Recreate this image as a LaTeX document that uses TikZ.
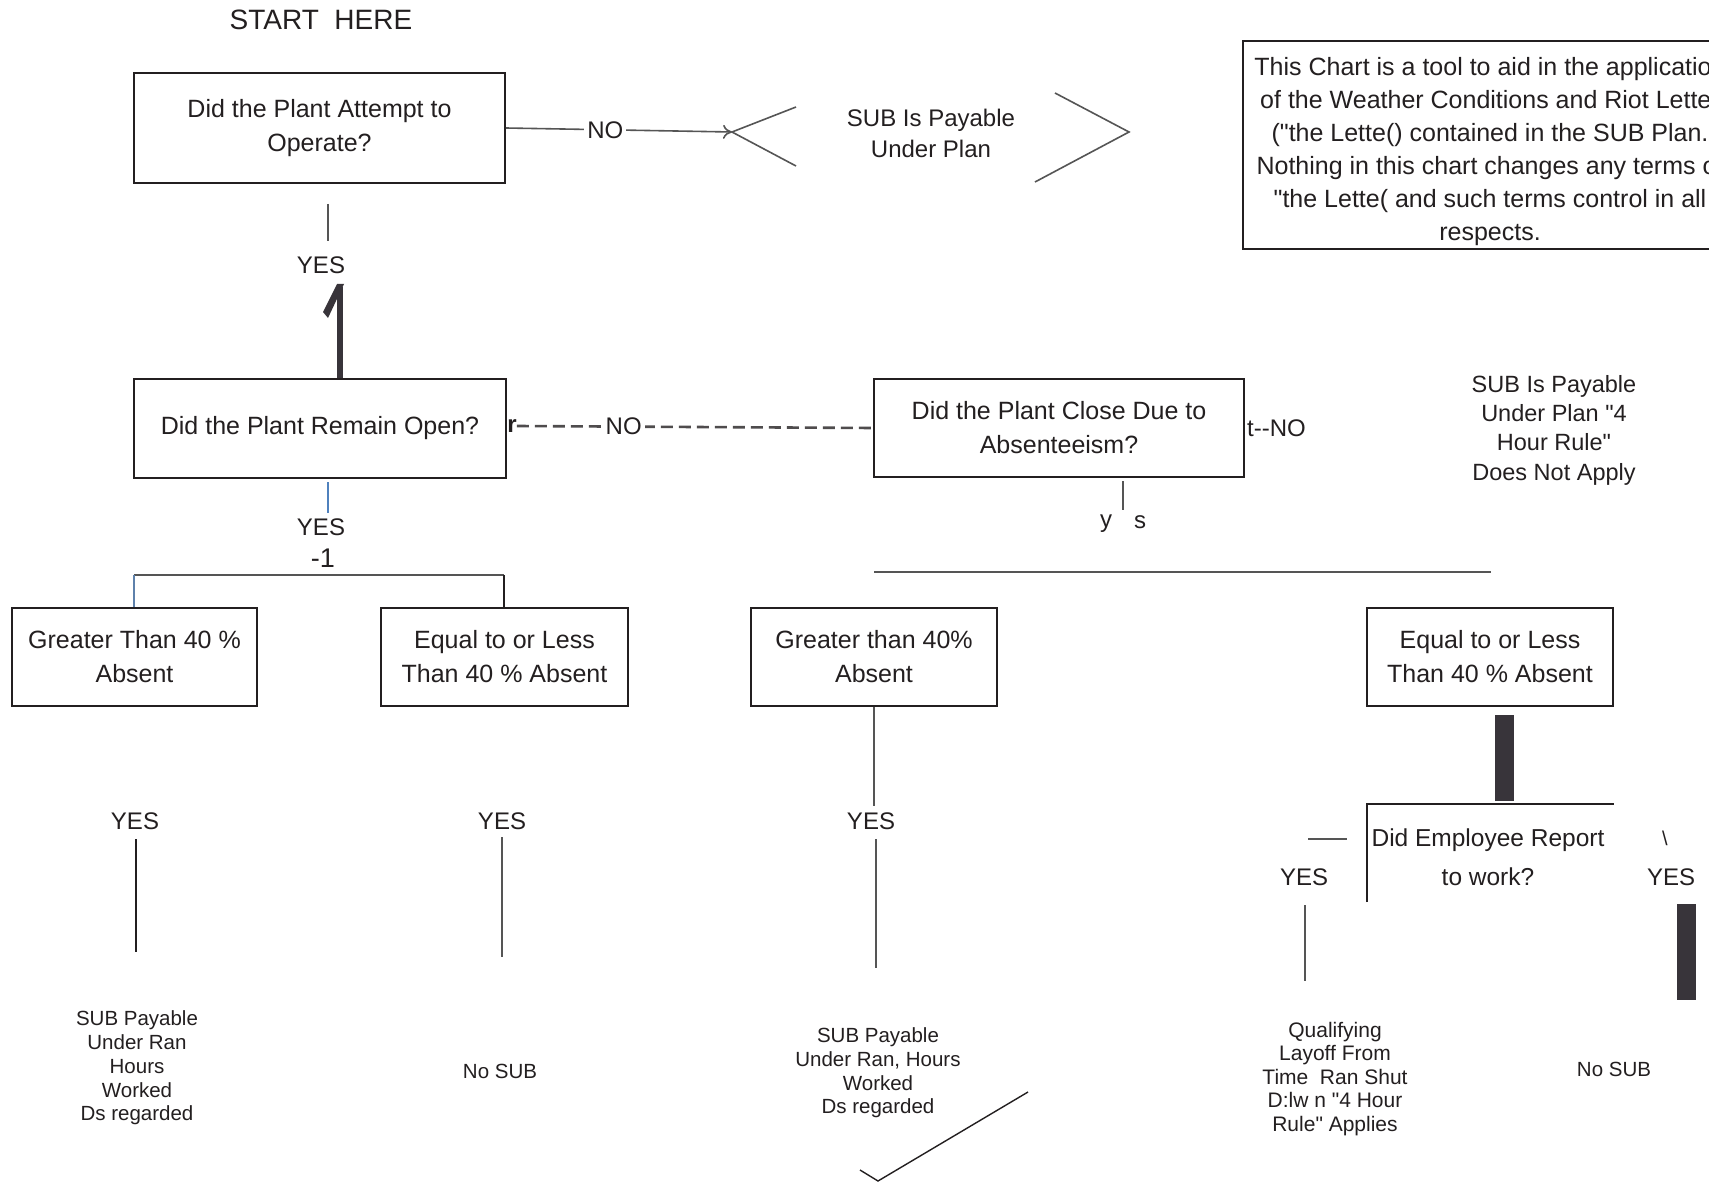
\documentclass[tikz,border=0pt]{standalone}
\usepackage{fontspec}
\setmainfont{Liberation Sans}[Ligatures=TeXOff]
\usetikzlibrary{arrows.meta,calc}
\definecolor{ink}{HTML}{231F20}
\definecolor{barc}{HTML}{38343A}
\definecolor{lblue}{HTML}{4F81BD}
\definecolor{lgray}{HTML}{555555}
\begin{document}
\begin{tikzpicture}[x=1pt,y=-1pt,
  every node/.style={text=ink, inner sep=0pt},
  box/.style={draw=ink, line width=1.8pt, align=center, font=\fontsize{25}{34}\selectfont},
  lbl/.style={font=\fontsize{24}{30}\selectfont},
  smalltxt/.style={align=center, font=\fontsize{20.5}{23.7}\selectfont},
  conn/.style={draw=lgray, line width=1.6pt},
  thinconn/.style={draw=lgray, line width=1.3pt},
  barfill/.style={fill=barc, draw=none}]
\useasboundingbox (0,0) rectangle (1709,1185);
\fill[white] (0,0) rectangle (1709,1185);
\clip (0,0) rectangle (1709,1185);

% top
\node[font=\fontsize{28}{30}\selectfont] (start) at (321,20) {START\ \ HERE};
\node[box, minimum width=371pt, minimum height=110pt] (q1) at (319.5,128) {Did the Plant Attempt to\\Operate?};

% payable chevron
\coordinate (apex) at (732,132);
\node[align=center, font=\fontsize{24}{31}\selectfont] (pay1) at (931,133) {SUB Is Payable\\Under Plan};
\draw[conn] (796,107) -- (apex) -- (796,166);
\draw[conn] (1055,93) -- (1129,132) -- (1035,182);
\draw[conn, -{To[length=9pt,width=14pt]}] (q1.east) -- node[pos=0.44, fill=white, lbl, inner xsep=3pt] (no1) {NO} (apex);

% note
\node[draw=ink, line width=1.8pt, minimum width=494pt, minimum height=208pt] (note) at (1490,145) {};
\node[align=center, font=\fontsize{25}{33}\selectfont] (notetext) at (1490,152)
  {This Chart is a tool to aid in the application\\of the Weather Conditions and Riot Letter\\("the Lette() contained in the SUB Plan.\\Nothing in this chart changes any terms of\\"the Lette( and such terms control in all\\respects.};

% first yes
\coordinate (c1a) at (328,204);
\coordinate (c1b) at (328,241);
\draw[conn] (c1a) -- (c1b);
\node[lbl] (yes1) at (321,265) {YES};
\node[box, minimum width=372pt, minimum height=99pt] (q2) at (320,428.5) {Did the Plant Remain Open?};
\coordinate (onetop) at (340,287);
\draw[draw=barc, line width=6.5pt] (onetop) -- (onetop |- q2.north);
\fill[barc] (337,284) -- (344,284) -- (328,318) -- (323,312) -- cycle;

% second yes
\coordinate (c2a) at (328,482);
\coordinate (c2b) at (328,513);
\draw[lblue, line width=2pt] (c2a) -- (c2b);
\node[lbl] (yes2) at (321,527) {YES};
\node[font=\fontsize{27}{30}\selectfont] (m1) at (323,558) {-1};

% split left
\node[box, minimum width=245pt, minimum height=98pt] (a) at (134.5,657) {Greater Than 40 \%\\Absent};
\node[box, minimum width=247pt, minimum height=98pt] (b) at (504.5,657) {Equal to or Less\\Than 40 \% Absent};
\coordinate (sl) at (134,575);
\coordinate (sr) at (504,575);
\draw[thinconn] (sl) -- (sr);
\draw[lblue!70!gray, line width=1.3pt] (sl) -- (sl |- a.north);
\draw[draw=ink, line width=1.6pt] (sr) -- (sr |- b.north);

% dashed NO
\node[font=\bfseries\fontsize{24}{30}\selectfont] (rr) at (512,426) {r};
\node[box, minimum width=370pt, minimum height=98pt] (q3) at (1059,428) {Did the Plant Close Due to\\Absenteeism?};
\draw[draw=ink!80, line width=2.6pt, dash pattern=on 12pt off 6pt] (rr.east) -- node[pos=0.30, fill=white, lbl, inner xsep=3pt] (no2) {NO} (q3.west);
\node[lbl, anchor=west] (tno) at ([xshift=2pt]q3.east) {t--NO};

% right text
\node[align=center, font=\fontsize{23.5}{29.3}\selectfont] (pay2) at (1554,430) {SUB Is Payable\\Under Plan "4\\Hour Rule"\\Does Not Apply};

% ys
\coordinate (c3a) at (1123,481);
\coordinate (c3b) at (1123,510);
\draw[conn] (c3a) -- (c3b);
\node[lbl] (ysy) at (1106,524) {y};
\node[lbl] (yss) at (1140,522) {s};
\coordinate (hl) at (874,572);
\coordinate (hr) at (1491,572);
\draw[thinconn] (hl) -- (hr);

\node[box, minimum width=246pt, minimum height=98pt] (c) at (874,657) {Greater than 40\%\\Absent};
\node[box, minimum width=246pt, minimum height=98pt] (d) at (1490,657) {Equal to or Less\\Than 40 \% Absent};

% below A
\node[lbl] (ya) at (135,821) {YES};
\coordinate (ya1) at (136,839);
\coordinate (ya2) at (136,952);
\draw[draw=ink, line width=1.5pt] (ya1) -- (ya2);
\node[smalltxt] (ra) at (137,1068) {SUB Payable\\Under Ran\\Hours\\Worked\\Ds regarded};

% below B
\node[lbl] (yb) at (502,821) {YES};
\coordinate (yb1) at (502,837);
\coordinate (yb2) at (502,957);
\draw[thinconn] (yb1) -- (yb2);
\node[smalltxt] (rb) at (500,1071) {No SUB};

% below C
\node[lbl] (yc) at (871,821) {YES};
\draw[thinconn] (c.south) -- (874,806);
\draw[thinconn] (876,839) -- (876,968);
\node[smalltxt] (rc) at (878,1073) {SUB Payable\\Under Ran, Hours\\Worked\\Ds regarded};
\coordinate (chk1) at (1028,1092);
\coordinate (chk2) at (878,1181);
\coordinate (chk3) at (860,1170);
\draw[draw=ink, line width=1.4pt] (chk1) -- (chk2) -- (chk3);

% below D
\fill[barfill] (1495,715) rectangle (1514,801);
\node[align=center, font=\fontsize{24.5}{39}\selectfont] (q4) at (1488,857) {Did Employee Report\\to work?};
\draw[draw=ink, line width=1.6pt] (1367,902) -- (1367,804) -- (1614,804);
\draw[draw=lgray, line width=2.2pt] (1308,839) -- (1347,839);
\node[lbl] (yd1) at (1304,877) {YES};
\draw[thinconn] (1305,905) -- (1305,981);
\node[font=\fontsize{20}{24}\selectfont] (bs) at (1665,838) {\textbackslash};
\node[lbl] (yd2) at (1671,877) {YES};
\fill[barfill] (1677,904) rectangle (1696,1000);
\node[align=center, font=\fontsize{21}{23.5}\selectfont] (rd1) at (1335,1079) {Qualifying\\Layoff From\\Time\ \ Ran Shut\\D:lw n "4 Hour\\Rule" Applies};
\node[smalltxt] (rd2) at (1614,1069) {No SUB};
\end{tikzpicture}
\end{document}
